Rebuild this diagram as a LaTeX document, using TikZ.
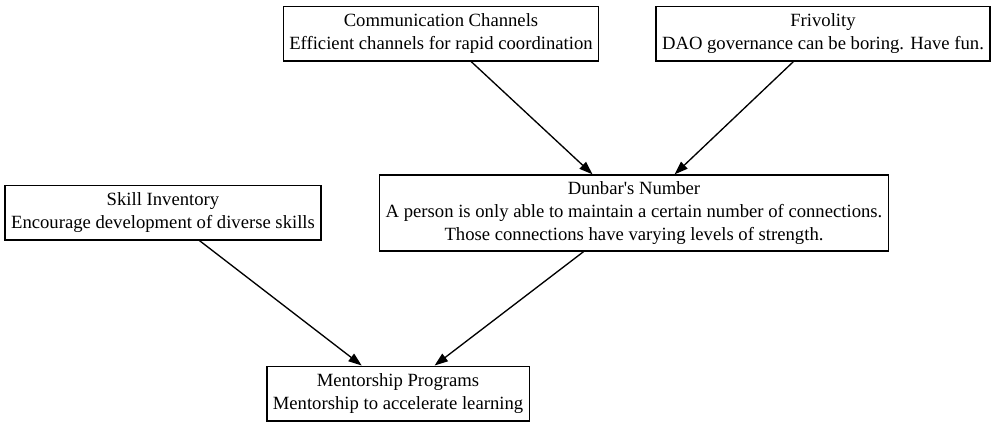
\documentclass[tikz,border=0pt]{standalone}
\usepackage{fontspec}
\setmainfont{Liberation Serif}
\usepackage{tikz}
\usetikzlibrary{arrows.meta}

\begin{document}
\begin{tikzpicture}[x=0.75pt, y=-0.75pt,
        box/.style={draw, line width=1pt, align=center, inner xsep=4.5pt,
            font=\fontsize{14}{17}\selectfont},
        edge/.style={line width=1pt, -{Triangle[length=10pt, width=7pt]}}]
        \useasboundingbox (0,0) rectangle (997,426);
        \node[box, minimum height=41pt] (comm) at (441,33.5){Communication Channels\\Efficient channels for rapid coordination};
        \node[box, minimum height=41pt] (friv) at (823,33.5){Frivolity\\DAO governance can be boring. Have fun.};
        \node[box, minimum height=41pt] (skill) at (163,212.5){Skill Inventory\\Encourage development of diverse skills};
        \node[box, minimum height=57pt] (dunbar) at (634,213){Dunbar\textquotesingle s Number\\A person is only able to maintain a certain number of connections.\\Those connections have varying levels of strength.};
        \node[box, minimum height=41pt] (mentor) at (398,393.5){Mentorship Programs\\Mentorship to accelerate learning};
        \draw[edge](comm)--(dunbar);
        \draw[edge](friv)--(dunbar);
        \draw[edge](skill)--(mentor);
        \draw[edge](dunbar)--(mentor);
    \end{tikzpicture}
\end{document}
